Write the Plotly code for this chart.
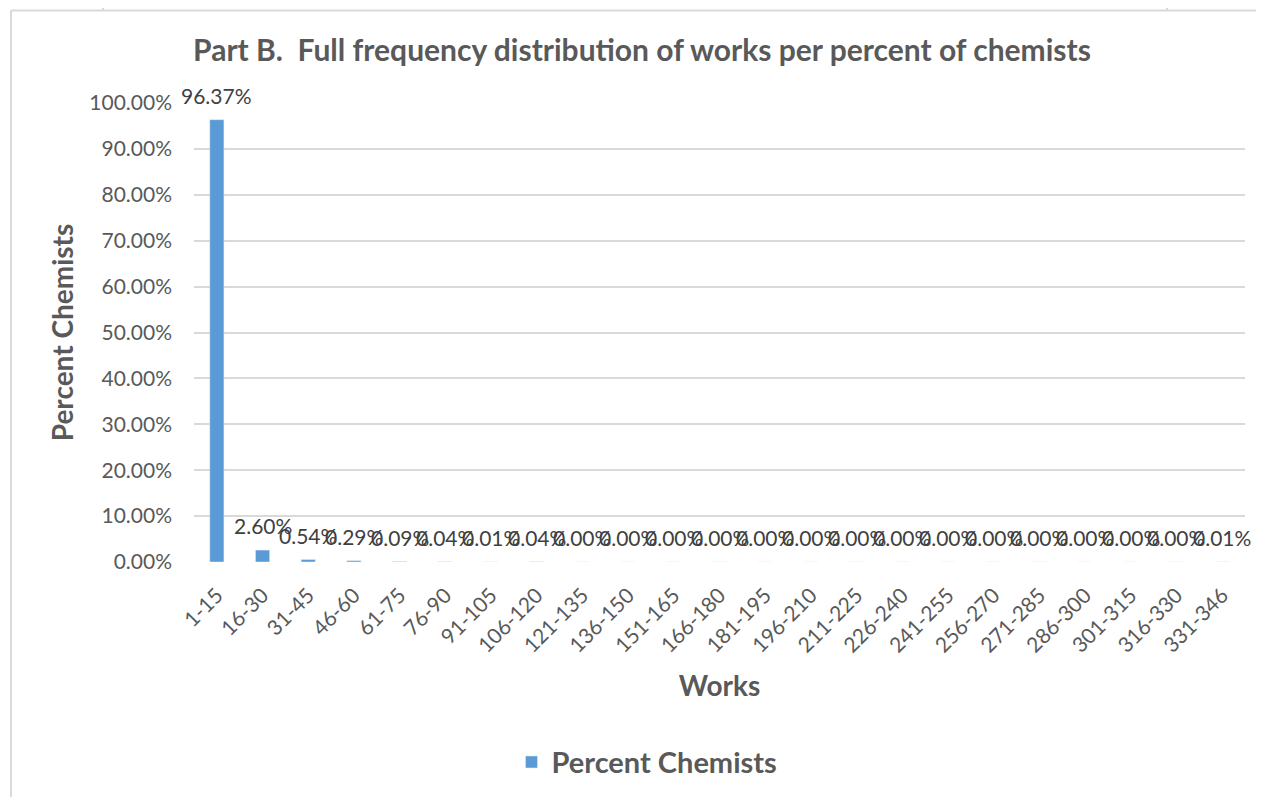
import plotly.graph_objects as go

categories = ["1-15", "16-30", "31-45", "46-60", "61-75", "76-90", "91-105", "106-120",
              "121-135", "136-150", "151-165", "166-180", "181-195", "196-210", "211-225",
              "226-240", "241-255", "256-270", "271-285", "286-300", "301-315", "316-330",
              "331-346"]
percent_chemists = [0.9637, 0.0260, 0.0054, 0.0029, 0.0009, 0.0004, 0.0001, 0.0004,
                    0.0000, 0.0000, 0.0000, 0.0000, 0.0000, 0.0000, 0.0000, 0.0000,
                    0.0000, 0.0000, 0.0000, 0.0000, 0.0000, 0.0000, 0.0001]
y_ticks = [0, 0.1, 0.2, 0.3, 0.4, 0.5, 0.6, 0.7, 0.8, 0.9, 1.0]

OFF = 8  # page body margin
W, H = 1264 - OFF, 800 - OFF
ML, MT = 194 - OFF, 103 - OFF
PR, PB = 1245 - OFF, 564 - OFF
MR, MB = W - PR, H - PB
PW, PH = PR - ML, PB - MT

def px(x):
    return (x - OFF - ML) / PW

def py(y):
    return (PB - (y - OFF)) / PH

TXT = "#595959"
FONT = "Lato"

fig = go.Figure()
fig.add_trace(go.Bar(
    x=categories, y=percent_chemists, name="Percent Chemists",
    marker_color="#5B9BD5",
))

annotations = [
    dict(x=c, y=v, xref="x", yref="y", text=f"{v:.2%}", showarrow=False,
         yanchor="bottom", xanchor="center", yshift=10,
         font=dict(family=FONT, size=21, color="#404040"))
    for c, v in zip(categories, percent_chemists)
]

grey = "#d9d9d9"
shapes = [
    dict(type="line", xref="paper", yref="paper", x0=px(11), x1=px(1264), y0=py(10), y1=py(10),
         line=dict(color=grey, width=2)),
    dict(type="line", xref="paper", yref="paper", x0=px(11), x1=px(11), y0=py(10), y1=py(800),
         line=dict(color=grey, width=2)),
    dict(type="line", xref="paper", yref="paper", x0=px(103), x1=px(103), y0=py(0), y1=py(10),
         line=dict(color=grey, width=2)),
    dict(type="line", xref="paper", yref="paper", x0=px(1167), x1=px(1167), y0=py(0), y1=py(10),
         line=dict(color=grey, width=2)),
]

fig.update_layout(
    width=W, height=H,
    margin=dict(l=ML, r=MR, t=MT, b=MB),
    paper_bgcolor="white", plot_bgcolor="white",
    bargap=0.69,
    title=dict(text="<b>Part B.  Full frequency distribution of works per percent of chemists</b>",
               x=(642 - OFF) / W, xanchor="center", y=1 - (50 - OFF) / H, yanchor="middle",
               font=dict(family=FONT, size=30, color=TXT)),
    xaxis=dict(type="category", range=[-0.5, len(categories) - 0.5], autorange=False,
               tickangle=-45, tickfont=dict(family=FONT, size=21, color=TXT),
               ticklabelstandoff=16, automargin=False,
               showgrid=False, showline=False, ticks="",
               title=dict(text="<b>Works</b>", font=dict(family=FONT, size=28, color=TXT), standoff=20)),
    yaxis=dict(range=[0, 1], autorange=False, tickvals=y_ticks, tickformat=".2%",
               tickfont=dict(family=FONT, size=21, color=TXT), ticklabelstandoff=21,
               automargin=False,
               gridcolor=grey, gridwidth=1.5, zeroline=False, ticks="",
               title=dict(text="<b>Percent Chemists</b>", font=dict(family=FONT, size=28, color=TXT), standoff=7)),
    showlegend=True,
    legend=dict(orientation="h", x=px(647), xanchor="center", y=py(765), yanchor="middle",
                font=dict(family=FONT, size=29, color=TXT, weight="bold")),
    annotations=annotations,
    shapes=shapes,
)

fig.write_html("out.html")
